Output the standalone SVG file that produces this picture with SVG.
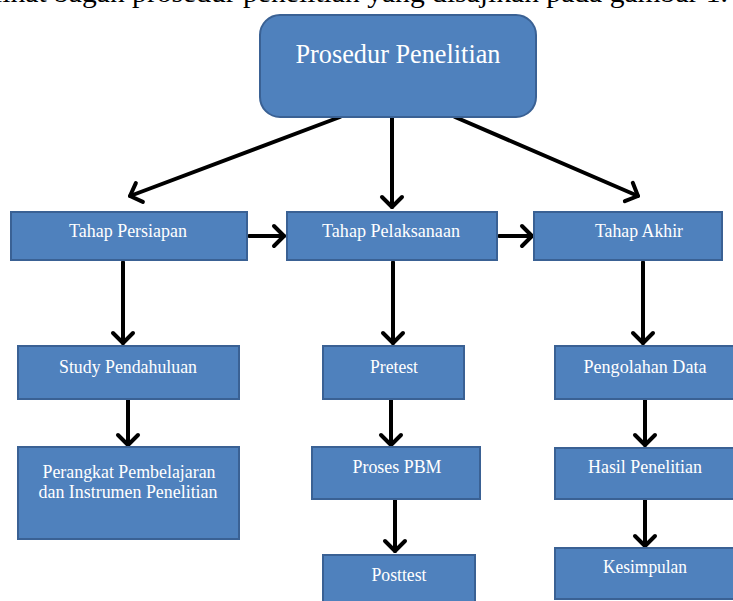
<svg xmlns="http://www.w3.org/2000/svg" width="733" height="601" viewBox="0 0 733 601">
<style>
.box{fill:#4F81BD;stroke:#3A6194;stroke-width:2}
.sh{fill:#9aa6b5;opacity:0.5}
.t{font-family:"Liberation Serif","Times New Roman",serif;font-size:19px;fill:#ffffff;text-anchor:middle}
.title{font-family:"Liberation Serif","Times New Roman",serif;font-size:27px;fill:#ffffff;text-anchor:middle}
.c{stroke:#000;stroke-width:4;fill:none;stroke-linecap:round}
</style>
<defs>
<marker id="ah" markerUnits="userSpaceOnUse" markerWidth="30" markerHeight="30" viewBox="-15 -15 30 30" refX="0" refY="0" orient="auto">
<path d="M-10,-10 L0,0 L-10,10" fill="none" stroke="#000" stroke-width="4" stroke-linecap="round" stroke-linejoin="round"/>
</marker>
</defs>
<text x="-6" y="2" font-family="Liberation Serif, serif" font-size="28" fill="#000" textLength="734" lengthAdjust="spacingAndGlyphs">lihat bagan prosedur penelitian yang disajikan pada gambar 1.</text>

<g id="connectors">
<line class="c" x1="340" y1="117" x2="130" y2="196" marker-end="url(#ah)"/>
<line class="c" x1="392" y1="117" x2="392" y2="207" marker-end="url(#ah)"/>
<line class="c" x1="455" y1="117" x2="638" y2="196" marker-end="url(#ah)"/>
<line class="c" x1="249" y1="236" x2="284" y2="236" marker-end="url(#ah)"/>
<line class="c" x1="499" y1="236" x2="532" y2="236" marker-end="url(#ah)"/>
<line class="c" x1="123" y1="262" x2="123" y2="343" marker-end="url(#ah)"/>
<line class="c" x1="393" y1="262" x2="393" y2="343" marker-end="url(#ah)"/>
<line class="c" x1="643" y1="262" x2="643" y2="343" marker-end="url(#ah)"/>
<line class="c" x1="128" y1="400" x2="128" y2="445" marker-end="url(#ah)"/>
<line class="c" x1="391" y1="400" x2="391" y2="445" marker-end="url(#ah)"/>
<line class="c" x1="645" y1="400" x2="645" y2="445" marker-end="url(#ah)"/>
<line class="c" x1="395" y1="500" x2="395" y2="551" marker-end="url(#ah)"/>
<line class="c" x1="645" y1="500" x2="645" y2="546" marker-end="url(#ah)"/>
</g>

<g id="prosedur">
<rect class="box" x="260" y="15" width="276" height="102" rx="20" ry="20"/>
<text class="title" x="398" y="63" textLength="205" lengthAdjust="spacingAndGlyphs">Prosedur Penelitian</text>
</g>
<g id="persiapan">
<rect class="box" x="11" y="212" width="236" height="48"/>
<text class="t" x="128" y="237" textLength="118" lengthAdjust="spacingAndGlyphs">Tahap Persiapan</text>
</g>
<g id="pelaksanaan">
<rect class="box" x="287" y="212" width="210" height="48"/>
<text class="t" x="391" y="237" textLength="138" lengthAdjust="spacingAndGlyphs">Tahap Pelaksanaan</text>
</g>
<g id="akhir">
<rect class="box" x="534" y="212" width="188" height="48"/>
<text class="t" x="639" y="237" textLength="88" lengthAdjust="spacingAndGlyphs">Tahap Akhir</text>
</g>
<g id="study">
<rect class="box" x="18" y="346" width="221" height="53"/>
<text class="t" x="128" y="373" textLength="138" lengthAdjust="spacingAndGlyphs">Study Pendahuluan</text>
</g>
<g id="perangkat">
<rect class="box" x="18" y="447" width="221" height="92"/>
<text class="t" x="129" y="478" textLength="173" lengthAdjust="spacingAndGlyphs">Perangkat Pembelajaran</text>
<text class="t" x="128" y="498" textLength="179" lengthAdjust="spacingAndGlyphs">dan Instrumen Penelitian</text>
</g>
<g id="pretest">
<rect class="box" x="323" y="346" width="141" height="53"/>
<text class="t" x="394" y="373" textLength="48" lengthAdjust="spacingAndGlyphs">Pretest</text>
</g>
<g id="proses">
<rect class="box" x="312" y="447" width="168" height="52"/>
<text class="t" x="397" y="473" textLength="89" lengthAdjust="spacingAndGlyphs">Proses PBM</text>
</g>
<g id="posttest">
<rect class="box" x="323" y="555" width="152" height="52"/>
<text class="t" x="399" y="581" textLength="55" lengthAdjust="spacingAndGlyphs">Posttest</text>
</g>
<g id="pengolahan">
<rect class="box" x="555" y="346" width="184" height="53"/>
<text class="t" x="645" y="373" textLength="123" lengthAdjust="spacingAndGlyphs">Pengolahan Data</text>
</g>
<g id="hasil">
<rect class="box" x="555" y="448" width="184" height="51"/>
<text class="t" x="645" y="473" textLength="114" lengthAdjust="spacingAndGlyphs">Hasil Penelitian</text>
</g>
<g id="kesimpulan">
<rect class="box" x="555" y="548" width="184" height="51"/>
<text class="t" x="645" y="573" textLength="84" lengthAdjust="spacingAndGlyphs">Kesimpulan</text>
</g>
</svg>
